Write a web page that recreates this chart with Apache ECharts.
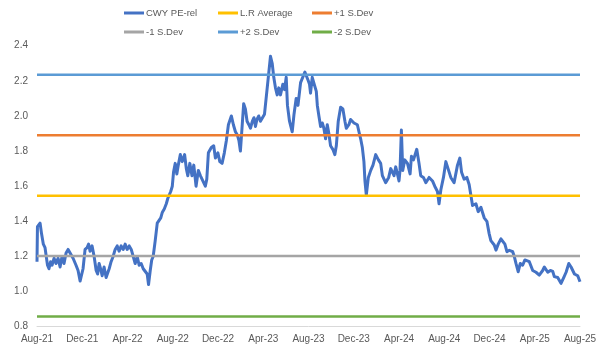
<!DOCTYPE html>
<html>
<head>
<meta charset="utf-8">
<script src="https://cdn.jsdelivr.net/npm/echarts@6/dist/echarts.min.js"></script>
<style>html,body{margin:0;padding:0;background:#fff}#c{width:602px;height:356px}</style>
</head>
<body>
<div id="c"></div>
<script>
// x tick labels (every 4 months from Aug-21)
const tickLabels = ["Aug-21","Dec-21","Apr-22","Aug-22","Dec-22","Apr-23","Aug-23","Dec-23","Apr-24","Aug-24","Dec-24","Apr-25","Aug-25"];
// months since Aug-21
const monthOffsets = [0.00,0.04,0.18,0.27,0.40,0.56,0.71,0.80,0.93,1.06,1.20,1.33,1.51,1.68,1.86,2.04,2.21,2.39,2.57,2.75,2.92,3.19,3.45,3.63,3.81,3.94,4.07,4.25,4.43,4.56,4.69,4.87,5.05,5.23,5.36,5.49,5.62,5.76,5.93,6.11,6.24,6.38,6.55,6.73,6.91,7.09,7.26,7.44,7.62,7.79,7.97,8.15,8.33,8.50,8.68,8.86,9.03,9.21,9.39,9.56,9.74,9.86,10.01,10.14,10.27,10.45,10.63,10.80,10.94,11.07,11.25,11.43,11.56,11.69,11.82,11.96,12.07,12.22,12.36,12.49,12.67,12.84,13.05,13.20,13.33,13.51,13.70,13.86,14.06,14.26,14.44,14.61,14.88,15.01,15.15,15.41,15.62,15.77,15.99,16.16,16.36,16.56,16.74,16.92,17.18,17.36,17.54,17.72,17.85,17.98,18.11,18.27,18.42,18.57,18.73,18.87,19.04,19.18,19.31,19.44,19.60,19.75,19.93,20.11,20.26,20.43,20.64,20.79,20.93,21.08,21.23,21.37,21.52,21.73,21.88,22.03,22.14,22.32,22.56,22.72,22.91,23.07,23.30,23.47,23.68,23.80,23.98,24.09,24.18,24.33,24.47,24.69,24.78,24.92,25.07,25.22,25.36,25.51,25.66,25.80,25.95,26.15,26.33,26.46,26.63,26.84,27.04,27.22,27.34,27.57,27.72,28.02,28.17,28.32,28.46,28.61,28.76,28.90,28.99,29.11,29.29,29.50,29.70,29.94,30.18,30.38,30.53,30.82,31.09,31.27,31.56,31.71,31.86,32.00,32.09,32.21,32.33,32.51,32.75,32.98,33.10,33.28,33.57,33.77,33.92,34.16,34.37,34.66,34.96,35.16,35.40,35.54,35.70,35.93,36.14,36.29,36.58,36.87,37.17,37.38,37.53,37.76,38.00,38.20,38.35,38.50,38.80,39.00,39.24,39.53,39.77,39.97,40.12,40.42,40.57,40.77,41.01,41.16,41.36,41.54,41.75,42.05,42.19,42.34,42.54,42.72,42.93,43.13,43.29,43.52,43.67,43.82,44.11,44.40,44.70,44.85,45.15,45.38,45.59,45.73,46.03,46.32,46.56,46.77,47.01,47.21,47.51,47.80,48.00];
const peRel = [1.17,1.37,1.36,1.39,1.33,1.27,1.25,1.26,1.15,1.13,1.17,1.15,1.19,1.16,1.19,1.14,1.20,1.16,1.22,1.24,1.23,1.19,1.15,1.12,1.06,1.05,1.13,1.24,1.25,1.27,1.23,1.26,1.20,1.12,1.10,1.16,1.13,1.09,1.14,1.08,1.07,1.13,1.17,1.20,1.24,1.26,1.23,1.26,1.24,1.27,1.24,1.26,1.24,1.25,1.16,1.20,1.15,1.16,1.13,1.14,1.10,1.04,1.12,1.18,1.20,1.29,1.39,1.40,1.42,1.45,1.47,1.50,1.53,1.55,1.57,1.60,1.68,1.73,1.67,1.72,1.78,1.74,1.78,1.70,1.66,1.73,1.66,1.72,1.60,1.69,1.66,1.67,1.60,1.64,1.79,1.82,1.83,1.76,1.79,1.74,1.73,1.79,1.86,1.95,2.00,1.95,1.91,1.89,1.86,1.80,1.92,2.07,2.04,1.97,1.95,1.93,1.97,1.99,1.94,1.98,2.00,1.97,1.99,2.01,2.02,2.21,2.34,2.30,2.22,2.16,2.12,2.16,2.12,2.18,2.15,2.22,2.06,1.97,1.91,2.01,2.10,2.06,2.19,2.19,2.25,2.23,2.20,2.18,2.13,2.22,2.21,2.14,2.06,2.00,1.94,1.96,1.93,1.87,1.95,1.90,1.83,1.81,1.78,1.83,1.97,2.05,2.04,1.97,1.93,1.95,1.98,1.96,1.97,1.95,1.91,1.87,1.82,1.74,1.63,1.55,1.65,1.69,1.72,1.78,1.75,1.73,1.66,1.62,1.65,1.70,1.66,1.71,1.67,1.63,1.69,1.92,1.69,1.75,1.73,1.67,1.77,1.75,1.81,1.73,1.66,1.65,1.62,1.65,1.63,1.60,1.57,1.50,1.58,1.65,1.74,1.73,1.65,1.62,1.72,1.76,1.68,1.64,1.65,1.61,1.55,1.49,1.50,1.455,1.48,1.42,1.40,1.33,1.29,1.265,1.236,1.27,1.30,1.29,1.27,1.227,1.235,1.227,1.20,1.16,1.113,1.16,1.15,1.18,1.19,1.17,1.18,1.12,1.11,1.094,1.12,1.14,1.11,1.12,1.115,1.085,1.08,1.047,1.08,1.11,1.16,1.14,1.10,1.09,1.056];
// reference levels
const lrAverage = 1.546;
const plus1SD = 1.890;
const minus1SD = 1.202;
const plus2SD = 2.234;
const minus2SD = 0.858;
const xStart = 0, xEnd = 48;

const chart = echarts.init(document.getElementById('c'), null, {renderer: 'canvas'});
const font = 'Liberation Sans, Arial, sans-serif';
const txt = '#595959';
function refLine(name, v, color) {
  return {name, type: 'line', showSymbol: false, symbol: 'none', silent: true,
    data: [[xStart, v], [xEnd, v]], lineStyle: {color, width: 2.5}, itemStyle: {color}};
}
function leg(name, left, top) {
  return {data: [name], left, top, icon: 'rect', itemWidth: 20, itemHeight: 3, itemGap: 0,
    textStyle: {color: txt, fontSize: 9.5, fontFamily: font, padding: [0, 0, 0, -3]}, padding: 0};
}
chart.setOption({
  animation: false,
  legend: [
    leg('CWY PE-rel', 124, 8), leg('L.R Average', 218, 8), leg('+1 S.Dev', 312, 8),
    leg('-1 S.Dev', 124, 27), leg('+2 S.Dev', 218, 27), leg('-2 S.Dev', 312, 27)
  ],
  grid: {left: 37, right: 22, top: 45.7, bottom: 29.3, containLabel: false},
  xAxis: {type: 'value', min: xStart, max: xEnd, interval: 4,
    axisLine: {lineStyle: {color: '#d9d9d9', width: 1}}, axisTick: {show: false}, splitLine: {show: false},
    axisLabel: {color: txt, fontSize: 10, fontFamily: font, margin: 8,
      formatter: v => tickLabels[Math.round(v / 4)] || ''}},
  yAxis: {type: 'value', min: 0.8, max: 2.4, interval: 0.2,
    axisLine: {show: false}, axisTick: {show: false}, splitLine: {show: false},
    axisLabel: {color: txt, fontSize: 10, fontFamily: font, margin: 9, formatter: v => v.toFixed(1)}},
  series: [
    {name: 'CWY PE-rel', type: 'line', showSymbol: false, symbol: 'none',
      data: monthOffsets.map((m, i) => [m, peRel[i]]),
      lineStyle: {color: '#4472C4', width: 3, join: 'round'}, itemStyle: {color: '#4472C4'}},
    refLine('L.R Average', lrAverage, '#FFC000'),
    refLine('+1 S.Dev', plus1SD, '#ED7D31'),
    refLine('-1 S.Dev', minus1SD, '#A5A5A5'),
    refLine('+2 S.Dev', plus2SD, '#5B9BD5'),
    refLine('-2 S.Dev', minus2SD, '#70AD47')
  ]
});
</script>
</body>
</html>
